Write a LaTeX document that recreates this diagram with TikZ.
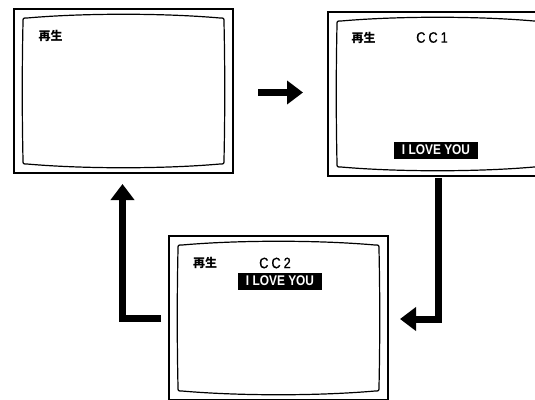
\documentclass[tikz,border=0pt]{standalone}
\usepackage{fontspec}
\setsansfont{Liberation Sans}
\newfontfamily\cjk{Noto Sans CJK JP}
\newfontfamily\cond[FakeStretch=0.85]{Liberation Sans}
\newfontfamily\condmed[FakeStretch=0.85,FakeBold=0.8]{Liberation Sans}
\usetikzlibrary{arrows.meta,calc}
\newcommand\tvinner[1]{%
  \draw[screenline, shift={(#1.north west)}] (13,9) .. controls (70,4) and (149,4) .. (206,9)
    .. controls (210,9) .. (210,13) .. controls (211,60) and (211,104) .. (210,151)
    .. controls (210,155) .. (206,155) .. controls (149,160) and (70,160) .. (13,155)
    .. controls (9,155) .. (9,151) .. controls (8,104) and (8,60) .. (9,13)
    .. controls (9,9) .. (13,9) -- cycle;}
\begin{document}
\begin{tikzpicture}[x=1pt,y=-1pt,
  tv/.style={draw, line width=1.8pt, minimum width=219pt, minimum height=164pt,
    anchor=north west, inner sep=0pt, outer sep=0pt},
  screenline/.style={line width=1.2pt},
  jp/.style={font=\cjk\bfseries\fontsize{12}{12}\selectfont, inner sep=0pt},
  cc/.style={font=\condmed\fontsize{15}{15}\selectfont, inner sep=0pt},
  msg/.style={fill=black, text=white, font=\cond\bfseries\fontsize{14}{14}\selectfont,
    minimum width=84pt, minimum height=17pt, inner sep=0pt},
  arr/.style={line width=7pt, line join=miter, -{Triangle[length=16pt,width=23pt]}}]
\useasboundingbox (0,0) rectangle (535,399);
\clip (0,0) rectangle (535,399);
\fill[white] (0,0) rectangle (535,399);
% screens
\node[tv] (s1) at (14,9) {};
\node[tv] (s2) at (328,12) {};
\node[tv] (s3) at (169,236) {};
\tvinner{s1}
\tvinner{s2}
\tvinner{s3}
% texts
\node[jp] (t1) at (50.5,35.5) {再生};
\node[jp] (t2) at (363.5,37.5) {再生};
\node[cc] (c1) at (432,37.5) {C\hspace{3pt}C\hspace{3pt}1};
\node[msg] (m1) at (436,150) {I LOVE YOU};
\node[jp] (t3) at (205,263) {再生};
\node[cc] (c2) at (275,263) {C\hspace{3pt}C\hspace{3pt}2};
\node[msg] (m2) at (280,281) {I LOVE YOU};
% arrows
\coordinate (p1) at (258,92.5);
\coordinate (p2) at (303,92.5);
\draw[arr] (p1) -- (p2);
\coordinate (q1) at (438.5,178);
\coordinate (q2) at (400,319);
\draw[arr] (q1) |- (q2);
\coordinate (u1) at (161,318);
\coordinate (u2) at (122.5,184);
\draw[arr] (u1) -| (u2);
\end{tikzpicture}
\end{document}
